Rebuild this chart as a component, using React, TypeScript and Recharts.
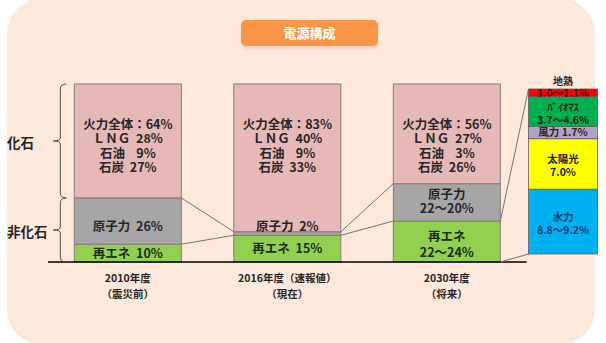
import React, { createContext, useCallback, useContext, useEffect, useState } from 'react';
import { BarChart, Bar, XAxis, YAxis, LabelList } from 'recharts';

const YEARS = ['2010年度', '2016年度（速報値）', '2030年度'];
const YEAR_NOTES = ['（震災前）', '（現在）', '（将来）'];

const FOSSIL = [64, 83, 56];
const LNG = [28, 40, 27];
const OIL = [9, 9, 3];
const COAL = [27, 33, 26];
const NUCLEAR = [26, 2, 21]; // 2030: 22～20%
const NUCLEAR_TEXT = ['26%', '2%', '22～20%'];
const RENEWABLE = [10, 15, 23]; // 2030: 22～24%
const RENEWABLE_TEXT = ['10%', '15%', '22～24%'];

// 2030 renewable breakdown, bottom to top (midpoints of the ranges)
const RE_KEYS = ['hydro', 'solar', 'wind', 'biomass', 'geo'];
const RE_NAMES = ['水力', '太陽光', '風力', 'ﾊﾞｲｵﾏｽ', '地熱'];
const RE_VALUES = [9.0, 7.0, 1.7, 4.15, 1.05];
const RE_TEXT = ['8.8～9.2%', '7.0%', '1.7%', '3.7～4.6%', '1.0～1.1%'];

const RE_COLORS = ['#00b0f0', '#ffff00', '#b3a2c7', '#00b050', '#ff0000'];
const RE_TEXT_COLORS = ['#1f3a66', '#262626', '#262626', '#0f2a10', '#5c0000'];

const data = YEARS.map((year, i) => {
  const row: Record<string, any> = {
    year,
    renewable: RENEWABLE[i],
    nuclear: NUCLEAR[i],
    fossil: FOSSIL[i],
  };
  if (i === YEARS.length - 1) {
    RE_KEYS.forEach((k, j) => (row[k] = RE_VALUES[j]));
  }
  return row;
});

const FONT = '"Noto Sans CJK JP", "Noto Sans", sans-serif';
const W = 606;
const H = 343;

type Rect = { x: number; y: number; width: number; height: number };
const GeomContext = createContext<(id: string, r: Rect) => void>(() => {});

function Reporter({ id, x, y, width, height }: any) {
  const report = useContext(GeomContext);
  useEffect(() => {
    report(id, { x, y, width, height });
  }, [id, x, y, width, height, report]);
  return null;
}

function Segment(props: any) {
  const { x, y, width, height, fill, id, stroke, strokeWidth } = props;
  if (x == null || !height || height <= 0) return null;
  return (
    <g>
      <rect x={x} y={y} width={width} height={height} fill={fill} stroke={stroke} strokeWidth={strokeWidth} />
      <Reporter id={id} x={x} y={y} width={width} height={height} />
    </g>
  );
}

// one <text> per label, lines as tspans, centred vertically on cy
function Lines({ cx, cy, lines, size, gap, fill }: any) {
  const start = cy - ((lines.length - 1) * gap) / 2 + size * 0.36;
  return (
    <text
      textAnchor="middle"
      fontFamily={FONT}
      fontWeight={700}
      fontSize={size}
      fill={fill}
      style={{ whiteSpace: 'pre' }}
    >
      {lines.map((l: string, i: number) => (
        <tspan key={i} x={cx} y={start + i * gap}>
          {l}
        </tspan>
      ))}
    </text>
  );
}

function Brace({ x, top, bottom, label }: any) {
  const mid = (top + bottom) / 2;
  const d = `M ${x + 6} ${top} Q ${x} ${top} ${x} ${top + 5} L ${x} ${mid - 3} Q ${x} ${mid} ${x - 7} ${mid} Q ${x} ${mid} ${x} ${mid + 3} L ${x} ${bottom - 5} Q ${x} ${bottom} ${x + 6} ${bottom}`;
  return (
    <g>
      <path d={d} fill="none" stroke="#4d4d4d" strokeWidth={1} />
      <text x={7} y={mid + 2 + 13.5 * 0.36} fontFamily={FONT} fontWeight={700} fontSize={13.5} fill="#262626">
        {label}
      </text>
    </g>
  );
}

function FossilLabel(props: any) {
  const { x, y, width, height, index } = props;
  if (x == null) return null;
  const lines = [
    `火力全体：${FOSSIL[index]}%`,
    `ＬＮＧ  ${LNG[index]}%`,
    `石油  ${OIL[index] < 10 ? '  ' : ''}${OIL[index]}%`,
    `石炭  ${COAL[index]}%`,
  ];
  return (
    <g>
      {index === 0 && <Brace x={x - 14} top={y} bottom={y + height} label="化石" />}
      <Lines cx={x + width / 2} cy={y + 62} lines={lines} size={12.5} gap={14.5} fill="#262626" />
    </g>
  );
}

function NuclearLabel(props: any) {
  const { x, y, width, height, index } = props;
  if (x == null) return null;
  const txt = NUCLEAR_TEXT[index];
  const two = txt.includes('～');
  const lines = two ? ['原子力', txt] : [`原子力  ${txt}`];
  let cy = y + height / 2 + (two ? -1 : 5);
  if (height < 12) cy = y - 5;
  const scale = height / NUCLEAR[index];
  return (
    <g>
      {index === 0 && (
        <Brace x={x - 14} top={y} bottom={y + height + RENEWABLE[index] * scale} label="非化石" />
      )}
      <Lines cx={x + width / 2} cy={cy} lines={lines} size={12.5} gap={14.5} fill="#262626" />
    </g>
  );
}

function RenewableLabel(props: any) {
  const { x, y, width, height, index } = props;
  if (x == null) return null;
  const txt = RENEWABLE_TEXT[index];
  const two = txt.includes('～');
  const lines = two ? ['再エネ', txt] : [`再エネ  ${txt}`];
  return <Lines cx={x + width / 2} cy={y + height / 2 + (two ? 3 : 0)} lines={lines} size={12.5} gap={16} fill="#1e2a10" />;
}

function makeReLabel(j: number) {
  return (props: any) => {
    const { x, y, width, height, value } = props;
    if (x == null || value == null || !height) return null;
    const cx = x + width / 2;
    const cy = y + height / 2;
    const fill = RE_TEXT_COLORS[j];
    const key = RE_KEYS[j];
    if (key === 'geo') {
      return (
        <g>
          <defs>
            <clipPath id="geo-clip">
              <rect x={x} y={y} width={width} height={height} />
            </clipPath>
          </defs>
          <g clipPath="url(#geo-clip)">
            <Lines cx={cx} cy={cy} lines={[RE_TEXT[j]]} size={10.5} gap={12} fill={fill} />
          </g>
          <Lines cx={cx} cy={y - 8} lines={[RE_NAMES[j]]} size={10} gap={12} fill="#262626" />
        </g>
      );
    }
    if (key === 'wind') {
      return <Lines cx={cx} cy={cy} lines={[`${RE_NAMES[j]} ${RE_TEXT[j]}`]} size={10.5} gap={12} fill={fill} />;
    }
    return <Lines cx={cx} cy={cy + 2} lines={[RE_NAMES[j], RE_TEXT[j]]} size={10.5} gap={13.5} fill={fill} />;
  };
}

function YearTick(props: any) {
  const { x, y, payload } = props;
  const i = YEARS.indexOf(payload.value);
  return <Lines cx={x} cy={y + 24} lines={[payload.value, YEAR_NOTES[i]]} size={10.5} gap={16} fill="#262626" />;
}

const MAIN_STROKE = '#857b7b';

export default function App() {
  const [rects, setRects] = useState<Record<string, Rect>>({});
  const report = useCallback((id: string, r: Rect) => {
    setRects((prev) => {
      const o = prev[id];
      if (o && o.x === r.x && o.y === r.y && o.width === r.width && o.height === r.height) return prev;
      return { ...prev, [id]: r };
    });
  }, []);

  const connectors: React.ReactNode[] = [];
  for (let i = 0; i < YEARS.length - 1; i++) {
    const n0 = rects[`nuclear-${i}`];
    const n1 = rects[`nuclear-${i + 1}`];
    const r0 = rects[`renewable-${i}`];
    const r1 = rects[`renewable-${i + 1}`];
    if (n0 && n1) connectors.push(<line key={`n${i}`} x1={n0.x + n0.width} y1={n0.y} x2={n1.x} y2={n1.y} />);
    if (r0 && r1) connectors.push(<line key={`r${i}`} x1={r0.x + r0.width} y1={r0.y} x2={r1.x} y2={r1.y} />);
  }
  const last = YEARS.length - 1;
  const rl = rects[`renewable-${last}`];
  const hydro = rects[`hydro-${last}`];
  const geo = rects[`geo-${last}`];
  if (rl && geo) connectors.push(<line key="bt" x1={rl.x + rl.width} y1={rl.y} x2={geo.x} y2={geo.y} />);
  if (rl && hydro)
    connectors.push(
      <line key="bb" x1={rl.x + rl.width} y1={rl.y + rl.height} x2={hydro.x} y2={hydro.y + hydro.height} />
    );

  const seg = (id: string, fill: string, stroke: string, sw: number) => (p: any) => (
    <Segment {...p} id={`${id}-${p.index}`} fill={fill} stroke={stroke} strokeWidth={sw} />
  );

  return (
    <GeomContext.Provider value={report}>
      <div style={{ position: 'absolute', left: 0, top: 0, width: W, height: H, background: '#fff', overflow: 'hidden', fontFamily: FONT }}>
        <div style={{ position: 'absolute', left: 7, top: -2, width: 588, height: 347, borderRadius: 36, background: '#fde9db' }} />
        <div
          style={{
            position: 'absolute',
            left: 241,
            top: 20,
            width: 137,
            height: 26,
            borderRadius: 5,
            background: '#f79646',
            color: '#fff',
            fontWeight: 700,
            fontSize: 13,
            lineHeight: '26px',
            textAlign: 'center',
            boxShadow: '0 3px 2px rgba(200,150,120,0.25)',
          }}
        >
          電源構成
        </div>
        <div style={{ position: 'absolute', left: 0, top: 0 }}>
          <BarChart
            width={W}
            height={H}
            data={data}
            margin={{ top: 84, right: 79.5, bottom: 41, left: 48 }}
            barCategoryGap="16.5%"
          >
            <XAxis
              xAxisId="main"
              dataKey="year"
              height={40}
              tickLine={false}
              tickSize={0}
              tickMargin={0}
              axisLine={{ stroke: '#000', strokeWidth: 1.5 }}
              tick={<YearTick />}
              interval={0}
            />
            <XAxis xAxisId="re" dataKey="year" hide padding={{ left: 334.5, right: -72 }} />
            <YAxis yAxisId="main" hide domain={[0, 100]} />
            <YAxis yAxisId="re" hide domain={[0, 'dataMax']} padding={{ top: 5, bottom: 8 }} />

            <Bar xAxisId="main" yAxisId="main" dataKey="renewable" stackId="main" fill="#92d050" isAnimationActive={false} shape={seg('renewable', '#92d050', MAIN_STROKE, 1)}>
              <LabelList dataKey="renewable" content={RenewableLabel} />
            </Bar>
            <Bar xAxisId="main" yAxisId="main" dataKey="nuclear" stackId="main" fill="#a6a6a6" isAnimationActive={false} shape={seg('nuclear', '#a6a6a6', MAIN_STROKE, 1)}>
              <LabelList dataKey="nuclear" content={NuclearLabel} />
            </Bar>
            <Bar xAxisId="main" yAxisId="main" dataKey="fossil" stackId="main" fill="#e6b9b8" isAnimationActive={false} shape={seg('fossil', '#e6b9b8', MAIN_STROKE, 1)}>
              <LabelList dataKey="fossil" content={FossilLabel} />
            </Bar>

            {RE_KEYS.map((k, j) => (
              <Bar
                key={k}
                xAxisId="re"
                yAxisId="re"
                dataKey={k}
                stackId="re"
                barSize={69}
                fill={RE_COLORS[j]}
                isAnimationActive={false}
                shape={seg(k, RE_COLORS[j], '#5f5f5f', 0.8)}
              >
                <LabelList dataKey={k} content={makeReLabel(j)} />
              </Bar>
            ))}
          </BarChart>
        </div>
        <svg width={W} height={H} style={{ position: 'absolute', left: 0, top: 0, pointerEvents: 'none' }}>
          <g stroke="#7a7070" strokeWidth={1}>{connectors}</g>
        </svg>
      </div>
    </GeomContext.Provider>
  );
}
